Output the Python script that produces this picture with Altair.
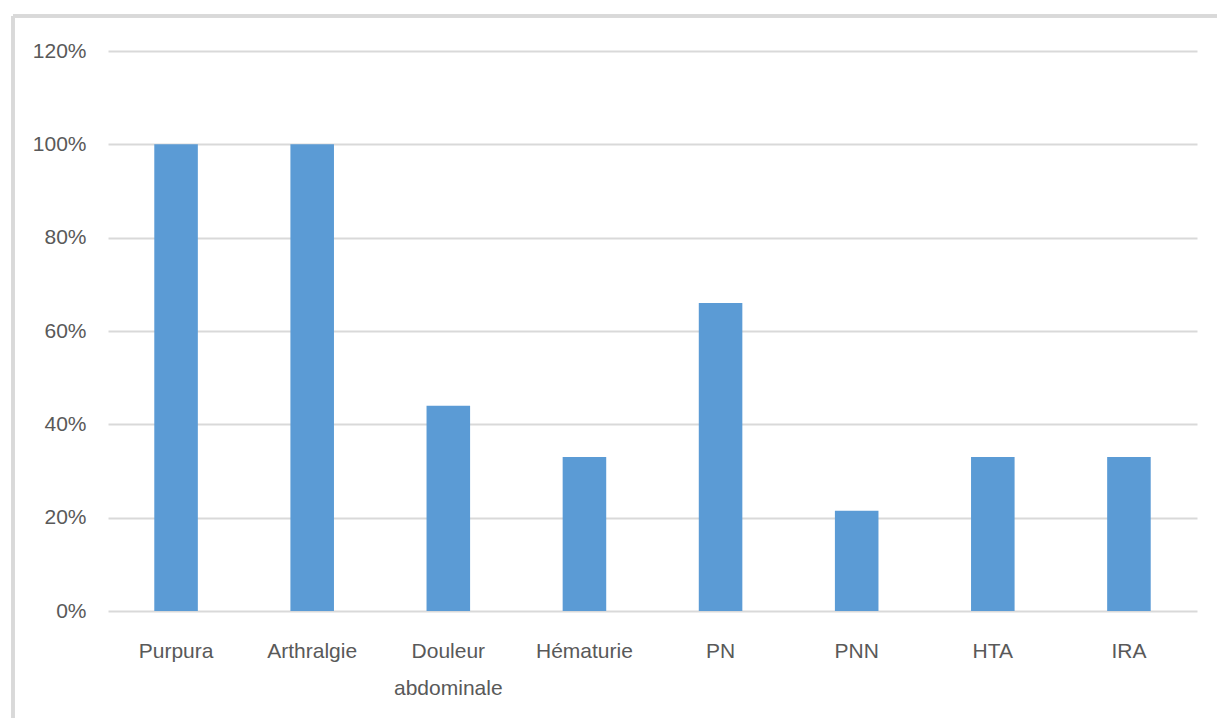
import altair as alt
import pandas as pd

# Share of patients presenting each sign
categories = ["Purpura", "Arthralgie", "Douleur abdominale", "Hématurie",
              "PN", "PNN", "HTA", "IRA"]
percent = [100, 100, 44, 33, 66, 21.5, 33, 33]

df = pd.DataFrame({"signe": categories, "pct": [p / 100 for p in percent]})

FONT = "Liberation Sans Narrow, Liberation Sans, sans-serif"
GREY = "#595959"
LINE = "#d9d9d9"

bars = alt.Chart(df).mark_bar(color="#5b9bd5").encode(
    x=alt.X(
        "signe:N",
        sort=categories,
        title=None,
        scale=alt.Scale(paddingInner=0.68, paddingOuter=0.34),
        axis=alt.Axis(
            labelAngle=0,
            labelFont=FONT,
            labelFontSize=21,
            labelColor=GREY,
            labelPadding=29,
            labelLineHeight=37,
            labelExpr="datum.label == 'Douleur abdominale' ? ['Douleur', 'abdominale'] : datum.label",
            ticks=False,
            domain=False,
            grid=False,
        ),
    ),
    y=alt.Y(
        "pct:Q",
        title=None,
        scale=alt.Scale(domain=[0, 1.2], nice=False),
        axis=alt.Axis(
            format=".0%",
            values=[0, 0.2, 0.4, 0.6, 0.8, 1.0, 1.2],
            labelFont=FONT,
            labelFontSize=21,
            labelColor=GREY,
            labelPadding=22,
            ticks=False,
            domain=False,
            grid=True,
            gridColor=LINE,
            gridWidth=2,
        ),
    ),
)

# Outer chart frame (top and left edges)
frame_top = alt.Chart(df).mark_rule(color=LINE, strokeWidth=3).encode(
    x=alt.value(-95), x2=alt.value(1115), y=alt.value(-35)
)
frame_left = alt.Chart(df).mark_rule(color=LINE, strokeWidth=3).encode(
    x=alt.value(-95), y=alt.value(-35), y2=alt.value(680)
)

chart = (
    alt.layer(bars, frame_top, frame_left)
    .properties(
        width=1089,
        height=560,
        autosize=alt.AutoSizeParams(type="none"),
        padding={"left": 108, "top": 51, "right": 20, "bottom": 107},
        background="white",
    )
    .configure_view(stroke=None)
)

chart.save("out.html", embed_options={"renderer": "svg", "actions": False})
